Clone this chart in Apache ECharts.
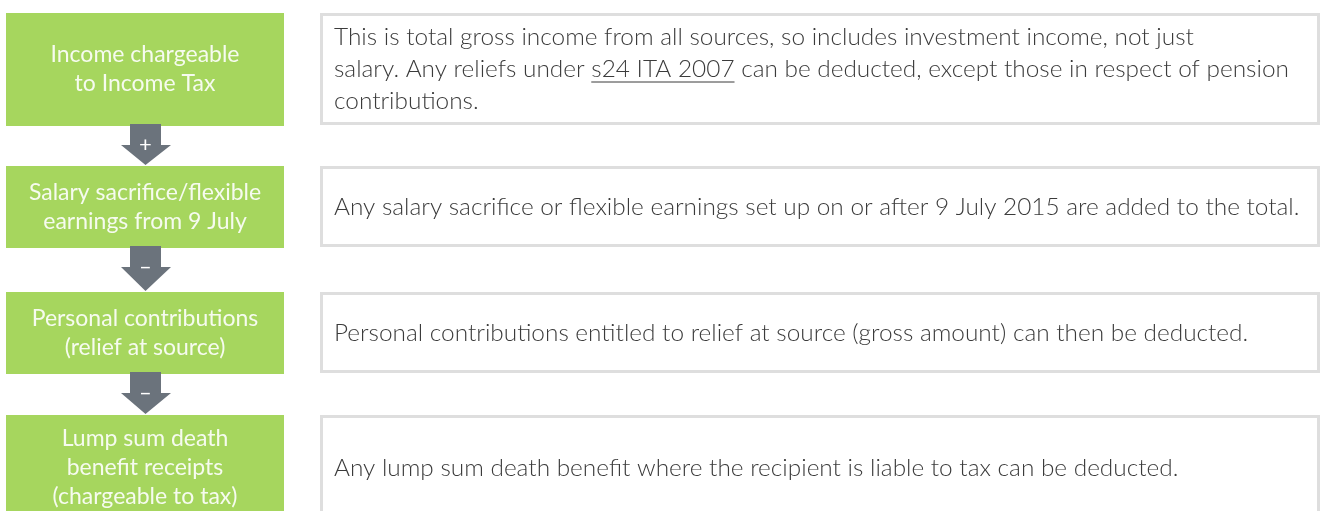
<!DOCTYPE html>
<html>
<head>
<meta charset="utf-8">
<script src="https://cdn.jsdelivr.net/npm/echarts@6/dist/echarts.min.js"></script>
<style>
  html, body { margin: 0; padding: 0; background: #fff; }
  #chart { width: 1324px; height: 511px; }
</style>
</head>
<body>
<div id="chart"></div>
<script>
// flow steps (left column), explanations (right column), operators between steps
var steps = [
    'Income chargeable\nto Income Tax',
    'Salary sacrifice/flexible\nearnings from 9 July',
    'Personal contributions\n(relief at source)',
    'Lump sum death\nbenefit receipts\n(chargeable to tax)'
];
var notes = [
    'This is total gross income from all sources, so includes investment income, not just\nsalary. Any reliefs under s24 ITA 2007 can be deducted, except those in respect of pension\ncontributions.',
    'Any salary sacrifice or flexible earnings set up on or after 9 July 2015 are added to the total.',
    'Personal contributions entitled to relief at source (gross amount) can then be deducted.',
    'Any lump sum death benefit where the recipient is liable to tax can be deducted.'
];
var signs = ['+', '\u2013', '\u2013'];
var linkText = 's24 ITA 2007';

(function () {
    // layout
    var rowTop = [13, 166, 292, 415];
    var rowBottom = [126, 248, 374, 521];
    var boxLeft = 6, boxRight = 284;
    var noteLeft = 320, noteRight = 1320;
    var green = '#a6d65e', arrowGray = '#6b737c', borderGray = '#dedede';
    var font = 'Lato, "Noto Sans", sans-serif';
    var noteSize = 24.4, stepSize = 23;

    var myChart = echarts.init(document.getElementById('chart'));

    function measure(str, size) {
        var c = document.createElement('canvas').getContext('2d');
        c.font = '300 ' + size + 'px ' + font;
        return c.measureText(str).width;
    }

    var elements = [];
    var cx = (boxLeft + boxRight) / 2;

    for (var i = 0; i < steps.length; i++) {
        var y0 = rowTop[i], y1 = rowBottom[i];
        elements.push({
            type: 'rect',
            shape: {x: boxLeft, y: y0, width: boxRight - boxLeft, height: y1 - y0},
            style: {fill: green}
        });
        elements.push({
            type: 'text',
            x: cx, y: (y0 + y1) / 2,
            style: {
                text: steps[i], fill: '#f6fbef', font: stepSize + 'px ' + font,
                align: 'center', verticalAlign: 'middle', lineHeight: 29
            }
        });
        elements.push({
            type: 'rect',
            shape: {x: noteLeft + 1.5, y: y0 + 1.5, width: noteRight - noteLeft - 3, height: y1 - y0 - 4},
            style: {fill: '#fff', stroke: borderGray, lineWidth: 3}
        });
        elements.push({
            type: 'text',
            x: noteLeft + 14, y: (y0 + y1) / 2,
            style: {
                text: notes[i], fill: '#3b3b3b', font: '300 ' + noteSize + 'px ' + font,
                align: 'left', verticalAlign: 'middle', lineHeight: 32
            }
        });
    }

    // underline of the act reference in the first note
    var line2 = notes[0].split('\n')[1];
    var pre = line2.substring(0, line2.indexOf(linkText));
    var ux = noteLeft + 14 + measure(pre, noteSize);
    var uw = measure(linkText, noteSize);
    var uy = (rowTop[0] + rowBottom[0]) / 2 + 12.5;
    elements.push({
        type: 'line',
        shape: {x1: ux, y1: uy, x2: ux + uw, y2: uy},
        style: {stroke: '#3b3b3b', lineWidth: 1}
    });

    // arrows between steps
    for (var j = 0; j < signs.length; j++) {
        var a = rowBottom[j] - 2, b = a + 21, tip = rowTop[j + 1] - 1;
        elements.push({
            type: 'polygon',
            shape: {points: [[130, a], [161, a], [161, b], [171, b], [cx + 0.5, tip], [121, b], [130, b]]},
            style: {fill: arrowGray}
        });
        elements.push({
            type: 'text',
            x: cx + 0.5, y: b,
            style: {
                text: signs[j], fill: '#ffffff', font: '22px ' + font,
                align: 'center', verticalAlign: 'middle'
            }
        });
    }

    myChart.setOption({
        backgroundColor: '#ffffff',
        graphic: {elements: elements}
    });
})();
</script>
</body>
</html>
